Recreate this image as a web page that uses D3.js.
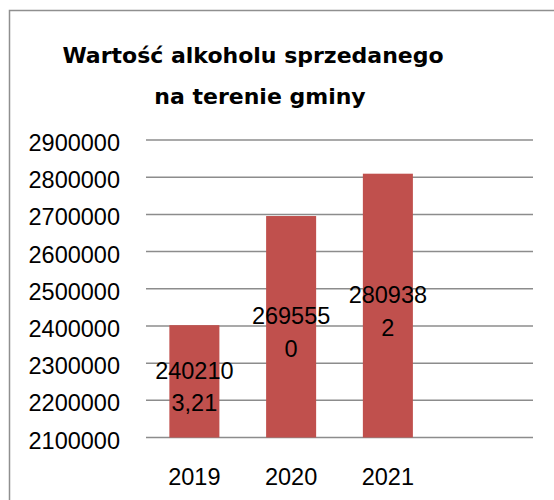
<!DOCTYPE html>
<html>
<head>
<meta charset="utf-8">
<script src="https://cdn.jsdelivr.net/npm/d3@7"></script>
<style>
  body { margin: 0; background: #fff; }
  text { font-family: "Liberation Sans", Arial, sans-serif; fill: #000; }
  .title { font-family: "DejaVu Sans", sans-serif; font-weight: bold; font-size: 22px; }
  .tick { font-size: 23.5px; }
</style>
</head>
<body>
<div id="container"></div>
<script>
var years = ["2019", "2020", "2021", ""];
var values = [2402103.21, 2695550, 2809382];
var yTicks = [2100000, 2200000, 2300000, 2400000, 2500000, 2600000, 2700000, 2800000, 2900000];
var titleLines = ["Wartość alkoholu sprzedanego", "na terenie gminy"];

var svg = d3.select("#container")
  .append("svg")
  .attr("width", 554)
  .attr("height", 500);

// chart area border (runs off the right and bottom edge)
svg.append("rect")
  .attr("x", 9.5)
  .attr("y", 10.5)
  .attr("width", 700)
  .attr("height", 700)
  .attr("fill", "#fff")
  .attr("stroke", "#8f8f8f")
  .attr("stroke-width", 1.5);

var x = d3.scaleBand()
  .domain(years)
  .range([146, 533])
  .paddingInner(0.483)
  .paddingOuter(0.2415);

var y = d3.scaleLinear()
  .domain([2100000, 2900000])
  .range([437.5, 140]);

svg.selectAll(".title")
  .data(titleLines)
  .enter().append("text")
    .classed("title", true)
    .attr("x", function(d, i) { return i == 0 ? 253 : 260; })
    .attr("y", function(d, i) { return 63 + i * 41; })
    .attr("text-anchor", "middle")
    .text(function(d) { return d; });

// gridlines
svg.selectAll(".grid")
  .data(yTicks)
  .enter().append("line")
    .classed("grid", true)
    .attr("x1", 146)
    .attr("x2", 533)
    .attr("y1", function(d) { return y(d); })
    .attr("y2", function(d) { return y(d); })
    .attr("stroke", "#8c8c8c")
    .attr("stroke-width", 1.5);

// y labels
svg.selectAll(".ylab")
  .data(yTicks)
  .enter().append("text")
    .classed("tick", true)
    .attr("x", 120)
    .attr("y", function(d) { return y(d) + 11; })
    .attr("text-anchor", "end")
    .text(function(d) { return d; });

// x labels
svg.selectAll(".xlab")
  .data(years)
  .enter().append("text")
    .classed("tick", true)
    .attr("x", function(d) { return x(d) + x.bandwidth() / 2; })
    .attr("y", 485)
    .attr("text-anchor", "middle")
    .text(function(d) { return d; });

var bars = svg.selectAll(".bar")
  .data(values)
  .enter().append("g")
    .classed("bar", true);

bars.append("rect")
  .attr("x", function(d, i) { return x(years[i]); })
  .attr("width", x.bandwidth())
  .attr("y", function(d) { return y(d); })
  .attr("height", function(d) { return y(2100000) - y(d); })
  .attr("fill", "#c0504d");

// data labels wrap after six characters, like the original
bars.each(function(d, i) {
  var s = String(d).replace(".", ",");
  var lines = [s.slice(0, 6), s.slice(6)];
  var mid = (y(d) + y(2100000)) / 2;
  d3.select(this).selectAll(".val")
    .data(lines)
    .enter().append("text")
      .classed("tick", true)
      .attr("x", x(years[i]) + x.bandwidth() / 2)
      .attr("y", function(t, j) { return mid - 2.5 + j * 32.5; })
      .attr("text-anchor", "middle")
      .text(function(t) { return t; });
});
</script>
</body>
</html>
